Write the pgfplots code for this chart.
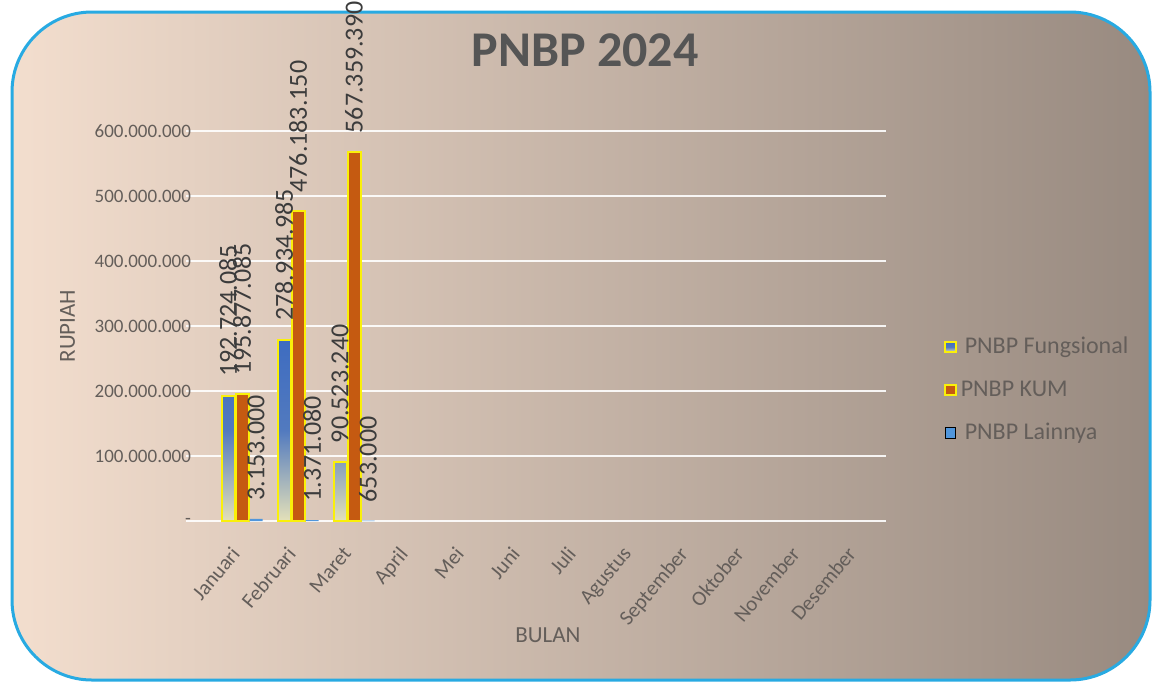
\documentclass[border=0pt]{standalone}
\usepackage{fontspec}
\setmainfont{Carlito}
\usepackage{pgfplots}
\pgfplotsset{compat=1.18}
\definecolor{bgL}{RGB}{243,222,206}
\definecolor{bgR}{RGB}{152,138,128}
\definecolor{frame}{RGB}{40,170,226}
\definecolor{txt}{RGB}{100,94,90}
\definecolor{titlec}{RGB}{85,85,85}
\definecolor{lblc}{RGB}{60,60,60}
\definecolor{fblue}{RGB}{62,108,192}
\definecolor{fpale}{RGB}{228,225,185}
\definecolor{kum}{RGB}{197,90,17}
\definecolor{lain}{RGB}{80,150,220}
\definecolor{glow}{RGB}{250,240,10}
\begin{document}
\begin{tikzpicture}
\fill[white] (0,0) rectangle (580.5pt,-343.5pt);
\shade[left color=bgL, right color=bgR, rounded corners=40pt] (6pt,-6pt) rectangle (575pt,-340pt);
\draw[frame, line width=1.5pt, rounded corners=40pt] (6pt,-6pt) rectangle (575pt,-340pt);
\begin{axis}[
  at={(93pt,-260.5pt)}, anchor=south west,
  scale only axis, width=350pt, height=195pt,
  xmin=-1, xmax=11.5, ymin=0, ymax=600000000,
  clip=false,
  ybar=0.5pt, bar width=6.5pt,
  axis line style={draw=none}, tick style={draw=none},
  ymajorgrids, grid style={white, line width=1.1pt, opacity=0.9},
  scaled y ticks=false,
  ytick={0,100000000,200000000,300000000,400000000,500000000,600000000},
  yticklabels={-,100.000.000,200.000.000,300.000.000,400.000.000,500.000.000,600.000.000},
  yticklabel style={font=\fontsize{9.5}{11}\selectfont, text=txt, anchor=east, xshift=6pt},
  xtick={0,1,2,3,4,5,6,7,8,9,10,11},
  xticklabels={Januari,Februari,Maret,April,Mei,Juni,Juli,Agustus,September,Oktober,November,Desember},
  xticklabel style={xshift=-6.5pt, yshift=-3pt, rotate=50, anchor=north east, font=\fontsize{10.5}{12}\selectfont, text=txt},
  ylabel={RUPIAH},
  every axis y label/.style={at={(rel axis cs:-0.169,0.5)}, rotate=90, anchor=center, font=\fontsize{11.5}{13}\selectfont, text=txt},
  xlabel={BULAN},
  every axis x label/.style={at={(rel axis cs:0.517,-0.292)}, anchor=center, font=\fontsize{11.5}{13}\selectfont, text=txt},
  title={PNBP 2024},
  title style={at={(rel axis cs:0.57,1.177)}, anchor=center, font=\fontsize{25}{30}\selectfont\bfseries, text=titlec},
  point meta=explicit symbolic,
  nodes near coords,
  every node near coord/.append style={rotate=90, anchor=west, inner xsep=9pt, font=\fontsize{13}{15}\selectfont, text=lblc},
  legend cell align=left,
  legend image code/.code={\draw[#1] (0pt,-2.6pt) rectangle (5.2pt,2.6pt);},
  legend style={at={(rel axis cs:1,0.336)}, anchor=west, xshift=26pt, draw=none, fill=none,
    font=\fontsize{12}{14}\selectfont, text=txt, row sep=8pt},
]
\addplot[draw=glow, line width=1pt, top color=fblue, bottom color=fpale, middle color=fblue!88!fpale]
  coordinates {(0,192724085) [192.724.085] (1,278934985) [278.934.985] (2,90523240) [90.523.240]};
\addlegendentry{\hspace{2pt}PNBP Fungsional}
\addplot[draw=glow, line width=1pt, fill=kum]
  coordinates {(0,195877085) [195.877.085] (1,476183150) [476.183.150] (2,567359390) [567.359.390]};
\addlegendentry{PNBP KUM}
\addplot[draw=none, fill=lain]
  coordinates {(0,3153000) [3.153.000] (1,1371080) [1.371.080] (2,653000) [653.000]};
\addlegendentry{\hspace{2pt}PNBP Lainnya}
\end{axis}
\pgfresetboundingbox
\useasboundingbox (0,0) rectangle (580.5pt,-343.5pt);
\end{tikzpicture}
\end{document}
